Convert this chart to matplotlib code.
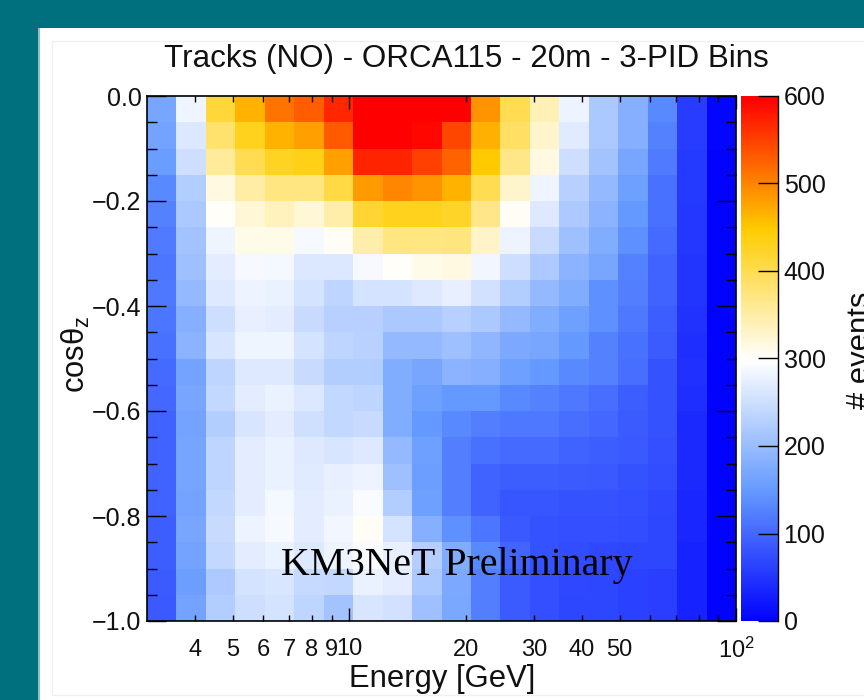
import numpy as np
import matplotlib
matplotlib.use('Agg')
import matplotlib.pyplot as plt
from matplotlib.colors import LinearSegmentedColormap
from matplotlib.patches import Rectangle
from matplotlib.ticker import FixedLocator, FixedFormatter

plt.rcParams['font.family'] = ['Liberation Sans', 'DejaVu Sans']
plt.rcParams['mathtext.fontset'] = 'custom'
plt.rcParams['mathtext.rm'] = 'Liberation Sans'
plt.rcParams['mathtext.it'] = 'Liberation Sans'

W, H = 864, 700

# bin edges of the histogram
energy_min, energy_max, n_energy = 3, 100, 20
cos_min, cos_max, n_cos = -1.0, 0.0, 20

# events per bin, top row (cos = 0) first
row_00 = [170, 285, 415, 468, 515, 530, 570, 600, 600, 600, 600, 490, 403, 344, 282, 218, 184, 135, 60, 5]
row_01 = [165, 266, 385, 432, 468, 482, 534, 598, 598, 595, 548, 471, 391, 330, 271, 218, 184, 128, 60, 5]
row_02 = [155, 252, 359, 403, 429, 438, 482, 574, 574, 552, 527, 450, 368, 318, 252, 213, 170, 120, 58, 4]
row_03 = [135, 227, 318, 353, 373, 373, 409, 486, 500, 490, 468, 403, 329, 285, 230, 198, 160, 112, 58, 4]
row_04 = [128, 218, 304, 325, 338, 325, 350, 420, 432, 432, 426, 368, 306, 269, 222, 188, 150, 112, 56, 3]
row_05 = [120, 213, 285, 312, 312, 291, 306, 350, 373, 373, 376, 332, 282, 247, 208, 179, 142, 105, 55, 3]
row_06 = [117, 208, 274, 291, 290, 265, 265, 291, 304, 313, 318, 287, 252, 222, 188, 170, 128, 98, 52, 3]
row_07 = [118, 198, 269, 282, 280, 260, 237, 260, 260, 269, 277, 256, 225, 198, 179, 142, 125, 98, 52, 3]
row_08 = [116, 184, 252, 277, 272, 247, 230, 230, 218, 220, 232, 220, 198, 179, 160, 142, 118, 93, 50, 3]
row_09 = [112, 188, 262, 285, 285, 260, 237, 233, 198, 198, 208, 193, 175, 170, 150, 128, 112, 90, 45, 3]
row_10 = [105, 165, 237, 269, 268, 247, 225, 225, 179, 170, 188, 184, 160, 150, 135, 128, 108, 82, 48, 3]
row_11 = [102, 170, 242, 272, 280, 265, 242, 237, 179, 160, 150, 150, 135, 128, 118, 108, 93, 82, 45, 3]
row_12 = [98, 165, 227, 262, 272, 254, 242, 247, 179, 150, 135, 125, 118, 118, 108, 102, 90, 80, 42, 3]
row_13 = [98, 168, 237, 272, 280, 269, 262, 269, 198, 160, 125, 112, 105, 105, 98, 92, 88, 78, 40, 3]
row_14 = [98, 168, 237, 272, 280, 271, 277, 283, 208, 158, 125, 98, 93, 93, 90, 88, 82, 75, 40, 3]
row_15 = [98, 165, 242, 272, 290, 274, 280, 295, 227, 160, 125, 98, 85, 85, 82, 80, 78, 72, 38, 3]
row_16 = [93, 170, 247, 282, 291, 274, 286, 306, 260, 184, 142, 115, 88, 82, 78, 78, 75, 70, 38, 3]
row_17 = [93, 165, 242, 272, 280, 269, 282, 295, 277, 228, 179, 135, 100, 82, 75, 72, 70, 68, 35, 3]
row_18 = [90, 158, 222, 260, 263, 245, 242, 280, 272, 218, 175, 125, 90, 78, 72, 68, 65, 62, 35, 3]
row_19 = [88, 165, 225, 252, 258, 237, 213, 262, 257, 208, 172, 125, 90, 78, 68, 70, 64, 62, 33, 3]

events = np.array([row_00, row_01, row_02, row_03, row_04, row_05, row_06, row_07, row_08, row_09,
                   row_10, row_11, row_12, row_13, row_14, row_15, row_16, row_17, row_18, row_19])

x_minor_ticks = [4, 5, 6, 7, 8, 9, 20, 30, 40, 50, 60, 70, 80, 90]
x_minor_labels = ['4', '5', '6', '7', '8', '9', '20', '30', '40', '50', '', '', '', '']
x_major_ticks = [10, 100]
x_major_labels = ['10', r'$\mathregular{10^{2}}$']
y_ticks = [-1.0, -0.8, -0.6, -0.4, -0.2, 0.0]
cbar_ticks = [0, 100, 200, 300, 400, 500, 600]

cmap = LinearSegmentedColormap.from_list('events', [(0, 0, 1), (0.39, 0.6, 1), (1, 1, 1), (1, 0.8, 0), (1, 0, 0)])


def px_rect(x0, y0, x1, y1):
    # pixel box measured from the top left corner -> figure fractions
    return [x0 / W, 1 - y1 / H, (x1 - x0) / W, (y1 - y0) / H]


fig = plt.figure(figsize=(W / 100, H / 100), dpi=100, facecolor='#00707f')

# slide page behind the plot
fig.add_artist(Rectangle((38 / W, 0), 3 / W, 1 - 28 / H, transform=fig.transFigure, color='#8fc0c6', lw=0, zorder=-3))
fig.add_artist(Rectangle((40 / W, 0), 1 - 40 / W, 1 - 28 / H, transform=fig.transFigure, color='white', lw=0, zorder=-2))
fig.add_artist(Rectangle((52 / W, 5 / H), 1, 1 - 46 / H, transform=fig.transFigure, facecolor='none',
                         edgecolor='#f0f0f0', lw=1, zorder=-1))

ax = fig.add_axes(px_rect(147, 96, 736, 621))
energy_edges = np.geomspace(energy_min, energy_max, n_energy + 1)
cos_edges = np.linspace(cos_max, cos_min, n_cos + 1)
mesh = ax.pcolormesh(energy_edges, cos_edges, events, cmap=cmap, vmin=0, vmax=600, linewidth=0)

ax.set_xscale('log')
ax.set_xlim(energy_min, energy_max)
ax.set_ylim(cos_min, cos_max)

ax.xaxis.set_major_locator(FixedLocator(x_major_ticks))
ax.xaxis.set_major_formatter(FixedFormatter(x_major_labels))
ax.xaxis.set_minor_locator(FixedLocator(x_minor_ticks))
ax.xaxis.set_minor_formatter(FixedFormatter(x_minor_labels))
ax.set_yticks(y_ticks)
ax.yaxis.set_minor_locator(FixedLocator(np.round(np.arange(-1, 0.01, 0.05), 2)))

ax.tick_params(axis='x', which='major', direction='in', top=True, length=9.5, width=1, labelsize=17, pad=12,
               labelcolor='#111111')
ax.tick_params(axis='x', which='minor', direction='in', top=True, length=4.5, width=1, labelsize=17, pad=13,
               labelcolor='#111111')
ax.tick_params(axis='y', which='major', direction='in', right=True, length=14, width=1, labelsize=18, pad=4,
               labelcolor='#111111')
ax.tick_params(axis='y', which='minor', direction='in', right=True, length=7, width=1)
for spine in ax.spines.values():
    spine.set_linewidth(1.2)

fig.text(466 / W, 1 - 59.5 / H, 'Tracks (NO) - ORCA115 - 20m - 3-PID Bins', fontsize=22.6,
         ha='center', va='center', color='#111111')
fig.text(442 / W, 1 - 678.5 / H, 'Energy [GeV]', fontsize=22.3, ha='center', va='center', color='#111111')
fig.text(76 / W, 1 - 354 / H, r'cos$\mathregular{\theta_{z}}$', fontsize=22.3, rotation=90,
         ha='center', va='center', color='#111111')
fig.text(456.5 / W, 1 - 565 / H, 'KM3NeT Preliminary', fontsize=28.6, family='Liberation Serif',
         ha='center', va='center', color='black')

cax = fig.add_axes(px_rect(741, 96, 778, 621))
cbar = fig.colorbar(mesh, cax=cax)
cbar.set_ticks(cbar_ticks)
cbar.ax.tick_params(direction='in', length=14.5, width=1, labelsize=18, pad=4, labelcolor='#111111')
cbar.outline.set_visible(False)
cax.spines['right'].set_visible(True)
cax.spines['right'].set_linewidth(1)
cbar.solids.set_edgecolor('face')
fig.text(861 / W, 1 - 350 / H, '# events', fontsize=22.3, rotation=90, ha='center', va='center', color='#111111')

fig.savefig('out.png', dpi=100, facecolor=fig.get_facecolor())
